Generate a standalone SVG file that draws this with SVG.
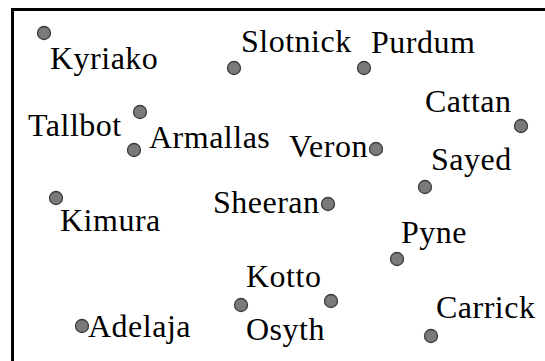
<svg xmlns="http://www.w3.org/2000/svg" width="545" height="361" viewBox="0 0 545 361">
  <style>
    .pt { fill: #7a7a7a; stroke: #3c3c3c; stroke-width: 1.3; }
    text { font-family: 'Liberation Serif', Times, serif; font-size: 32px; letter-spacing: 0.5px; fill: #000; }
  </style>
  <rect width="545" height="361" fill="#fff"/>
  <!-- frame: only its top and left edges fall inside the view -->
  <rect x="12.5" y="9.5" width="560" height="380" fill="none" stroke="#000" stroke-width="3"/>
  <g id="connectors"/>
  <g id="Kyriako"><circle class="pt" cx="44" cy="33" r="6.5"/><text x="50" y="69">Kyriako</text></g>
  <g id="Slotnick"><circle class="pt" cx="234" cy="68" r="6.5"/><text x="241" y="52">Slotnick</text></g>
  <g id="Purdum"><circle class="pt" cx="364" cy="68" r="6.5"/><text x="371" y="53">Purdum</text></g>
  <g id="Tallbot"><circle class="pt" cx="140" cy="112" r="6.5"/><text x="28" y="136">Tallbot</text></g>
  <g id="Armallas"><circle class="pt" cx="134" cy="150" r="6.5"/><text x="149" y="148">Armallas</text></g>
  <g id="Veron"><circle class="pt" cx="376" cy="149" r="6.5"/><text x="289" y="157">Veron</text></g>
  <g id="Cattan"><circle class="pt" cx="521" cy="126" r="6.5"/><text x="425" y="112">Cattan</text></g>
  <g id="Sayed"><circle class="pt" cx="425" cy="187" r="6.5"/><text x="431" y="170">Sayed</text></g>
  <g id="Kimura"><circle class="pt" cx="56" cy="198" r="6.5"/><text x="60" y="231">Kimura</text></g>
  <g id="Sheeran"><circle class="pt" cx="328" cy="204" r="6.5"/><text x="213" y="213">Sheeran</text></g>
  <g id="Pyne"><circle class="pt" cx="397" cy="259" r="6.5"/><text x="401" y="243">Pyne</text></g>
  <g id="Kotto"><circle class="pt" cx="331" cy="301" r="6.5"/><text x="246" y="287">Kotto</text></g>
  <g id="Osyth"><circle class="pt" cx="241" cy="305" r="6.5"/><text x="246" y="340">Osyth</text></g>
  <g id="Adelaja"><circle class="pt" cx="82" cy="326" r="6.5"/><text x="88" y="337">Adelaja</text></g>
  <g id="Carrick"><circle class="pt" cx="431" cy="336" r="6.5"/><text x="436" y="318">Carrick</text></g>
</svg>
